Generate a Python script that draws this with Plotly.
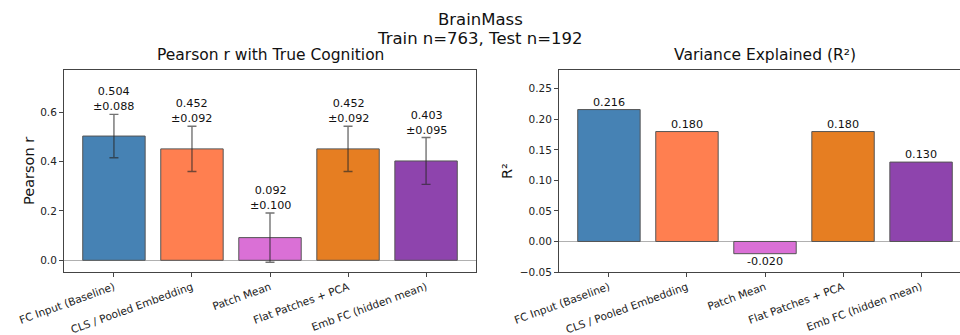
import plotly.graph_objects as go

categories = ["FC Input (Baseline)", "CLS / Pooled Embedding", "Patch Mean",
              "Flat Patches + PCA", "Emb FC (hidden mean)"]
pearson_r = [0.504, 0.452, 0.092, 0.452, 0.403]
pearson_err = [0.088, 0.092, 0.100, 0.092, 0.095]
r2_values = [0.216, 0.180, -0.020, 0.180, 0.130]
bar_colors = ["#4682B4", "#FF7F50", "#DA70D6", "#E67E22", "#8E44AD"]
left_ticks = [0.0, 0.2, 0.4, 0.6]
right_ticks = [-0.05, 0.00, 0.05, 0.10, 0.15, 0.20, 0.25]

W, H = 960, 335
FONT = "DejaVu Sans"
AX = "#444444"
TXT = "#111111"

fig = go.Figure()

fig.add_trace(go.Bar(
    x=categories, y=pearson_r, width=0.8,
    marker=dict(color=bar_colors, line=dict(color="#555555", width=1)),
    error_y=dict(type="data", array=pearson_err, visible=True,
                 color="rgba(40,40,40,0.65)", thickness=1.4, width=4.5),
    xaxis="x", yaxis="y", showlegend=False, hoverinfo="skip"))

fig.add_trace(go.Bar(
    x=categories, y=r2_values, width=0.8,
    marker=dict(color=bar_colors, line=dict(color="#555555", width=1)),
    xaxis="x2", yaxis="y2", showlegend=False, hoverinfo="skip"))

# layout geometry (pixels)
L1, R1 = 64, 476
L2 = 559
TOP, BOT = 70, 272
unit = (R1 - L1) / 5.28
x2_max = -0.64 + (W - L2) / unit

axis_common = dict(showline=True, linecolor=AX, linewidth=1, mirror=True,
                   ticks="outside", ticklen=4, tickcolor=AX, automargin=False,
                   showgrid=False)
xfont = dict(family=FONT, size=10.6, color="#222222")
yfont = dict(family=FONT, size=10.5, color="#222222")

fig.update_layout(
    width=W, height=H,
    margin=dict(l=0, r=0, t=0, b=0, autoexpand=False),
    paper_bgcolor="white", plot_bgcolor="white",
    font=dict(family=FONT, color=TXT),
    bargap=0.2,
    xaxis=dict(domain=[L1 / W, R1 / W], anchor="y", type="category",
               range=[-0.64, 4.64], tickangle=-20, zeroline=False,
               tickfont=xfont, **axis_common),
    yaxis=dict(domain=[1 - BOT / H, 1 - TOP / H], anchor="x",
               range=[-0.0475, 0.772], tickvals=left_ticks, tickformat=".1f",
               zeroline=True, zerolinecolor="#b0b0b0", zerolinewidth=1,
               tickfont=yfont, **axis_common),
    xaxis2=dict(domain=[L2 / W, 1.0], anchor="y2", type="category",
                range=[-0.64, x2_max], tickangle=-20, zeroline=False,
                tickfont=xfont, **axis_common),
    yaxis2=dict(domain=[1 - BOT / H, 1 - TOP / H], anchor="x2",
                range=[-0.05, 0.2808], tickvals=right_ticks, tickformat=".2f",
                zeroline=True, zerolinecolor="#b0b0b0", zerolinewidth=1,
                tickfont=yfont, **{**axis_common, "mirror": False}),
)

def paper_ann(text, xpx, ypx, size, angle=0):
    return dict(text=text, x=xpx / W, y=1 - ypx / H, xref="paper", yref="paper",
                showarrow=False, xanchor="center", yanchor="middle",
                textangle=angle, font=dict(family=FONT, size=size, color=TXT))

annotations = [
    paper_ann("BrainMass", 480, 20, 16.5),
    paper_ann("Train n=763, Test n=192", 480, 39, 16.5),
    paper_ann("Pearson r with True Cognition", (L1 + R1) / 2, 55, 15.5),
    paper_ann("Variance Explained (R²)", L2 + (R1 - L1) / 2, 55, 15.5),
    paper_ann("Pearson r", 29, (TOP + BOT) / 2, 14.5, -90),
    paper_ann("R²", 507, (TOP + BOT) / 2, 14.5, -90),
]

for c, v, e in zip(categories, pearson_r, pearson_err):
    annotations.append(dict(text=f"{v:.3f}<br>±{e:.3f}", x=c, y=v + e,
                            xref="x", yref="y", showarrow=False,
                            xanchor="center", yanchor="bottom", yshift=-1,
                            font=dict(family=FONT, size=11.2, color=TXT)))

for c, v in zip(categories, r2_values):
    annotations.append(dict(text=f"{v:.3f}", x=c, y=v,
                            xref="x2", yref="y2", showarrow=False,
                            xanchor="center",
                            yanchor="bottom" if v >= 0 else "top",
                            yshift=-1 if v >= 0 else 1,
                            font=dict(family=FONT, size=11.2, color=TXT)))

fig.update_layout(annotations=annotations)
fig.write_html("out.html")
